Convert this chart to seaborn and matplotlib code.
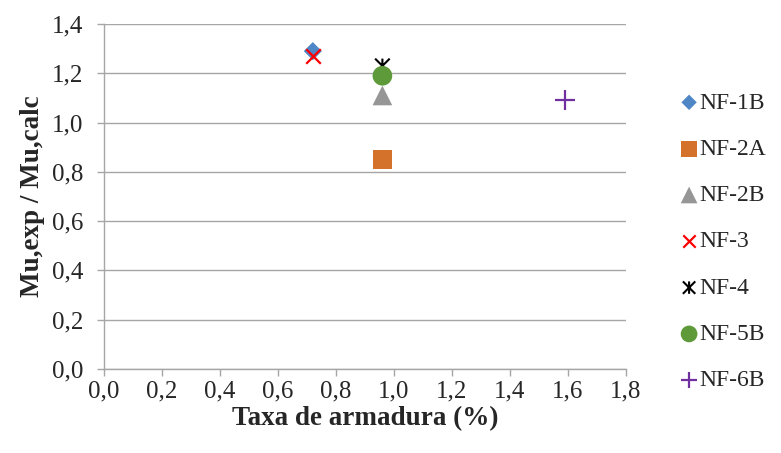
import matplotlib
matplotlib.use("Agg")
import matplotlib.pyplot as plt
from matplotlib.path import Path
from matplotlib.ticker import MultipleLocator, FuncFormatter
import seaborn as sns
import pandas as pd

# Reinforcement ratio (%) and moment ratio for each beam
beams = ["NF-1B", "NF-2A", "NF-2B", "NF-3", "NF-4", "NF-5B", "NF-6B"]
taxa = [0.72, 0.96, 0.96, 0.72, 0.96, 0.96, 1.59]
mu_ratio = [1.29, 0.85, 1.11, 1.27, 1.23, 1.19, 1.09]

colors = ["#4F86C6", "#D4712A", "#969696", "#FF0000", "#000000", "#5E9A3A", "#7030A0"]

# Excel-style asterisk: an X with a vertical bar through it
star = Path(
    [(-0.5, -0.5), (0.5, 0.5), (-0.5, 0.5), (0.5, -0.5), (0.0, -0.5), (0.0, 0.5)],
    [Path.MOVETO, Path.LINETO, Path.MOVETO, Path.LINETO, Path.MOVETO, Path.LINETO],
)
markers = ["D", "s", "^", "x", star, "o", "+"]
kind = ["fill", "fill", "fill", "line", "path", "fill", "line"]
sizes = [85, 190, 200, 110, 110, 200, 190]

df = pd.DataFrame({"beam": beams, "taxa": taxa, "mu": mu_ratio})

sns.set_style("white")
plt.rcParams["font.family"] = ["Liberation Serif", "DejaVu Serif"]

fig = plt.figure(figsize=(7.81, 4.53), dpi=100)
ax = fig.add_axes([0.1332, 0.1854, 0.6683, 0.7616])

for i, row in df.iterrows():
    if kind[i] == "fill":
        kw = dict(edgecolor="none")
    elif kind[i] == "path":
        kw = dict(facecolor="none", edgecolor=colors[i], linewidth=1.5)
    else:
        kw = dict(linewidth=1.6)
    sns.scatterplot(
        x=[row["taxa"]], y=[row["mu"]], ax=ax, marker=markers[i], s=sizes[i],
        color=colors[i], label=row["beam"], zorder=3, **kw,
    )

ax.set_xlim(0, 1.8)
ax.set_ylim(0, 1.4)
ax.xaxis.set_major_locator(MultipleLocator(0.2))
ax.yaxis.set_major_locator(MultipleLocator(0.2))
fmt = FuncFormatter(lambda v, p: f"{v:.1f}".replace(".", ","))
ax.xaxis.set_major_formatter(fmt)
ax.yaxis.set_major_formatter(fmt)

grid_c = "#A6A6A6"
ax.yaxis.grid(True, color=grid_c, linewidth=1.0)
ax.xaxis.grid(False)
for side in ("top", "right"):
    ax.spines[side].set_visible(False)
for side in ("left", "bottom"):
    ax.spines[side].set_color(grid_c)
    ax.spines[side].set_linewidth(1.0)
ax.tick_params(axis="both", which="major", direction="out", length=5, width=1.0,
               color=grid_c, labelsize=18, left=True, bottom=True)
ax.tick_params(axis="y", pad=10)
ax.tick_params(axis="x", pad=3)

ax.set_xlabel("Taxa de armadura (%)", fontsize=19.5, fontweight="bold", labelpad=3)
ax.set_ylabel("Mu,exp / Mu,calc", fontsize=19.5, fontweight="bold", labelpad=5)

leg = ax.legend(loc="upper left", bbox_to_anchor=(682 / 781, 1 - 92 / 453),
                bbox_transform=fig.transFigure, frameon=False,
                fontsize=17, handlelength=0.6, handletextpad=0.15,
                labelspacing=1.05, borderaxespad=0, markerscale=0.85,
                borderpad=0)

fig.savefig("out.png", dpi=100)
